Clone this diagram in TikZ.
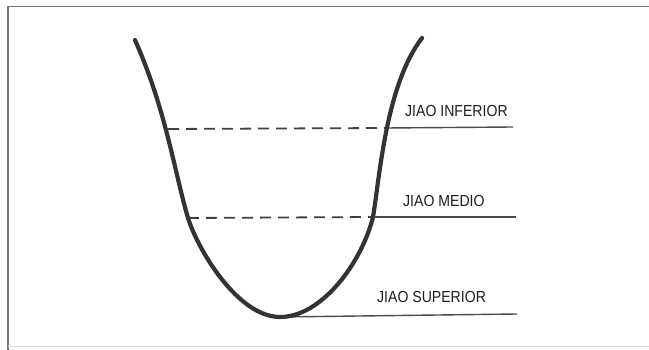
\documentclass[tikz,border=0pt]{standalone}
\usepackage{fontspec}
\setmainfont{Liberation Sans}[FakeStretch=0.88]
\begin{document}
\begin{tikzpicture}[x=1pt,y=-1pt,
  framestyle/.style={draw=black!55,line width=1.6pt},
  bowl/.style={draw=black!80,line width=4.2pt,line cap=round},
  dashpart/.style={draw=black!75,line width=1.8pt,dash pattern=on 11pt off 7pt},
  levelline/.style={draw=black!70,line width=1.4pt},
  lbl/.style={anchor=west,inner sep=0pt,text=black!88,font=\fontsize{16}{16}\selectfont}]
\useasboundingbox (0,0) rectangle (649,350);
\fill[white] (0,0) rectangle (649,350);
% frame
\draw[framestyle] (649,6.5) -- (8,6.5) -- (8,350);
\draw[draw=black!15,line width=1pt] (8,347) -- (649,347);
% coordinates
\coordinate (L1) at (168,129);
\coordinate (R1) at (386,128);
\coordinate (E1) at (513,127);
\coordinate (L2) at (188,218);
\coordinate (R2) at (373,217);
\coordinate (E2) at (516,217);
\coordinate (B) at (280,317);
\coordinate (E3) at (517,314);
\coordinate (TL) at (135,40);
\coordinate (TR) at (422,38);
% levels
\draw[dashpart] (L1) -- (R1);
\draw[levelline] (R1) -- (E1);
\draw[dashpart] (L2) -- (R2);
\draw[levelline] (R2) -- (E2);
\draw[levelline] (B) -- (E3);
% bowl curve
\draw[bowl] (TL) .. controls (166,110) and (174,170) .. (L2)
  .. controls (198,250) and (238,317) .. (B)
  .. controls (322,317) and (362,262) .. (R2)
  .. controls (380,175) and (386,85) .. (TR);
% labels
\node[lbl] (t1) at (405,111) {JIAO INFERIOR};
\node[lbl] (t2) at (403,201) {JIAO MEDIO};
\node[lbl] (t3) at (377,297) {JIAO SUPERIOR};
\end{tikzpicture}
\end{document}
